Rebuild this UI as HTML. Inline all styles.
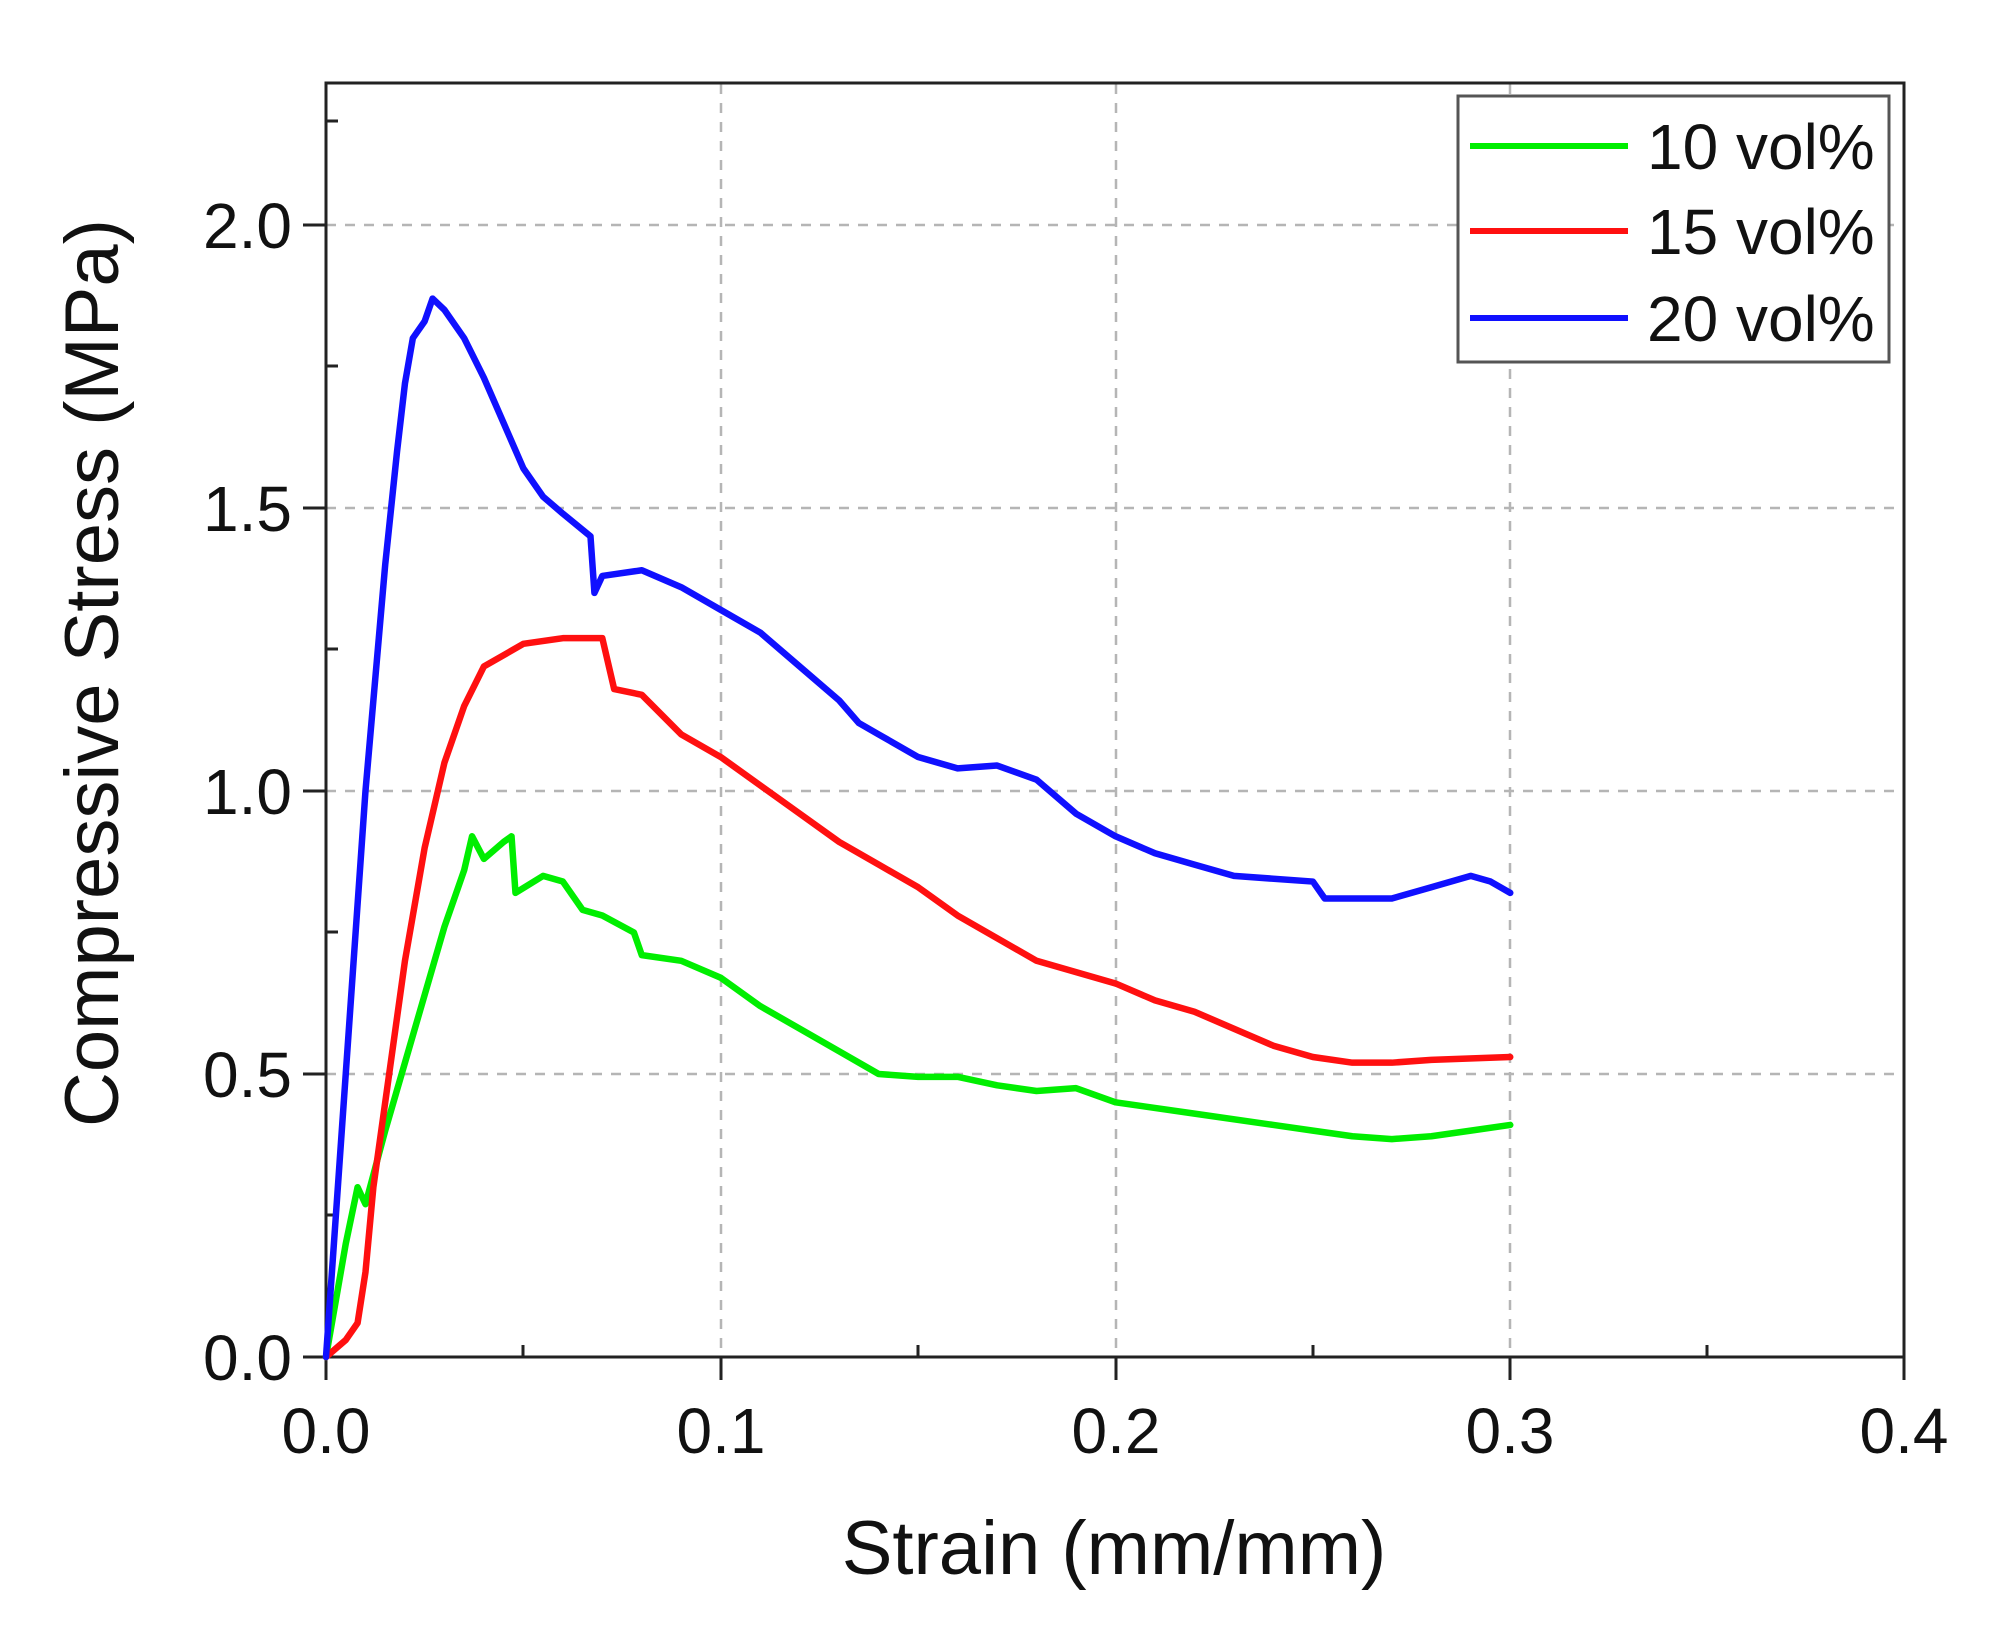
<!DOCTYPE html>
<html><head><meta charset="utf-8"><style>
html,body{margin:0;padding:0;background:#fff;}
svg{display:block;}
text{font-family:"Liberation Sans",sans-serif;fill:#111;}
</style></head><body>
<svg width="1992" height="1630" viewBox="0 0 1992 1630" xmlns="http://www.w3.org/2000/svg">
<rect width="1992" height="1630" fill="#fff"/>
<g stroke="#b5b5b5" stroke-width="2.5" stroke-dasharray="10,9" fill="none">
<line x1="721" y1="84" x2="721" y2="1357"/>
<line x1="1116" y1="84" x2="1116" y2="1357"/>
<line x1="1510" y1="84" x2="1510" y2="1357"/>
<line x1="326" y1="1074" x2="1904" y2="1074"/>
<line x1="326" y1="791" x2="1904" y2="791"/>
<line x1="326" y1="508" x2="1904" y2="508"/>
<line x1="326" y1="225" x2="1904" y2="225"/>
</g>
<rect x="326" y="83" width="1578" height="1274" fill="none" stroke="#222" stroke-width="3"/>
<g stroke="#222" stroke-width="3">
<line x1="326" y1="1357" x2="326" y2="1380"/>
<line x1="721" y1="1357" x2="721" y2="1380"/>
<line x1="1116" y1="1357" x2="1116" y2="1380"/>
<line x1="1510" y1="1357" x2="1510" y2="1380"/>
<line x1="1904" y1="1357" x2="1904" y2="1380"/>
<line x1="303" y1="1357" x2="326" y2="1357"/>
<line x1="303" y1="1074" x2="326" y2="1074"/>
<line x1="303" y1="791" x2="326" y2="791"/>
<line x1="303" y1="508" x2="326" y2="508"/>
<line x1="303" y1="225" x2="326" y2="225"/>
<line x1="523" y1="1357" x2="523" y2="1345"/>
<line x1="918" y1="1357" x2="918" y2="1345"/>
<line x1="1313" y1="1357" x2="1313" y2="1345"/>
<line x1="1707" y1="1357" x2="1707" y2="1345"/>
<line x1="326" y1="1215" x2="338" y2="1215"/>
<line x1="326" y1="932" x2="338" y2="932"/>
<line x1="326" y1="649" x2="338" y2="649"/>
<line x1="326" y1="366" x2="338" y2="366"/>
<line x1="326" y1="121" x2="338" y2="121"/>
</g>
<g font-size="64" text-anchor="end">
<text x="292" y="1380">0.0</text>
<text x="292" y="1097">0.5</text>
<text x="292" y="814">1.0</text>
<text x="292" y="531">1.5</text>
<text x="292" y="248">2.0</text>
</g>
<g font-size="64" text-anchor="middle">
<text x="326" y="1453">0.0</text>
<text x="721" y="1453">0.1</text>
<text x="1116" y="1453">0.2</text>
<text x="1510" y="1453">0.3</text>
<text x="1904" y="1453">0.4</text>
</g>
<text x="1114" y="1574" font-size="76" text-anchor="middle">Strain (mm/mm)</text>
<text transform="translate(118,673) rotate(-90)" font-size="76" text-anchor="middle">Compressive Stress (MPa)</text>
<g transform="translate(326,1357) scale(3947.5,-566)" fill="none" stroke-linejoin="round" stroke-linecap="round">
<polyline vector-effect="non-scaling-stroke" stroke-width="6.5" stroke="#00ee00" points="0,0 0.005,0.2 0.008,0.3 0.01,0.27 0.015,0.4 0.02,0.52 0.025,0.64 0.03,0.76 0.035,0.86 0.037,0.92 0.04,0.88 0.045,0.91 0.047,0.92 0.048,0.82 0.055,0.85 0.06,0.84 0.065,0.79 0.07,0.78 0.078,0.75 0.08,0.71 0.09,0.7 0.1,0.67 0.11,0.62 0.12,0.58 0.13,0.54 0.14,0.5 0.15,0.495 0.16,0.495 0.17,0.48 0.18,0.47 0.19,0.475 0.2,0.45 0.22,0.43 0.24,0.41 0.25,0.4 0.26,0.39 0.27,0.385 0.28,0.39 0.29,0.4 0.3,0.41"/>
<polyline vector-effect="non-scaling-stroke" stroke-width="6.5" stroke="#ff1010" points="0,0 0.005,0.03 0.008,0.06 0.01,0.15 0.012,0.3 0.015,0.45 0.018,0.6 0.02,0.7 0.025,0.9 0.03,1.05 0.035,1.15 0.04,1.22 0.045,1.24 0.05,1.26 0.06,1.27 0.07,1.27 0.073,1.18 0.08,1.17 0.09,1.1 0.1,1.06 0.11,1.01 0.12,0.96 0.13,0.91 0.14,0.87 0.15,0.83 0.16,0.78 0.17,0.74 0.18,0.7 0.19,0.68 0.2,0.66 0.21,0.63 0.22,0.61 0.23,0.58 0.24,0.55 0.25,0.53 0.26,0.52 0.27,0.52 0.28,0.525 0.3,0.53"/>
<polyline vector-effect="non-scaling-stroke" stroke-width="6.5" stroke="#1010ff" points="0,0 0.005,0.5 0.01,1.0 0.015,1.4 0.018,1.6 0.02,1.72 0.022,1.8 0.025,1.83 0.027,1.87 0.03,1.85 0.035,1.8 0.04,1.73 0.045,1.65 0.05,1.57 0.055,1.52 0.06,1.49 0.067,1.45 0.068,1.35 0.07,1.38 0.08,1.39 0.09,1.36 0.1,1.32 0.11,1.28 0.12,1.22 0.13,1.16 0.135,1.12 0.14,1.1 0.15,1.06 0.16,1.04 0.17,1.045 0.18,1.02 0.19,0.96 0.2,0.92 0.21,0.89 0.22,0.87 0.23,0.85 0.25,0.84 0.253,0.81 0.27,0.81 0.28,0.83 0.29,0.85 0.295,0.84 0.3,0.82"/>
</g>
<rect x="1458" y="96" width="431" height="266" fill="#fff" stroke="#555" stroke-width="3"/>
<g stroke-width="6">
<line x1="1470" y1="146" x2="1628" y2="146" stroke="#00ee00"/>
<line x1="1470" y1="231" x2="1628" y2="231" stroke="#ff1010"/>
<line x1="1470" y1="318" x2="1628" y2="318" stroke="#1010ff"/>
</g>
<g font-size="64">
<text x="1647" y="169">10 vol%</text>
<text x="1647" y="254">15 vol%</text>
<text x="1647" y="341">20 vol%</text>
</g>
</svg>
</body></html>
